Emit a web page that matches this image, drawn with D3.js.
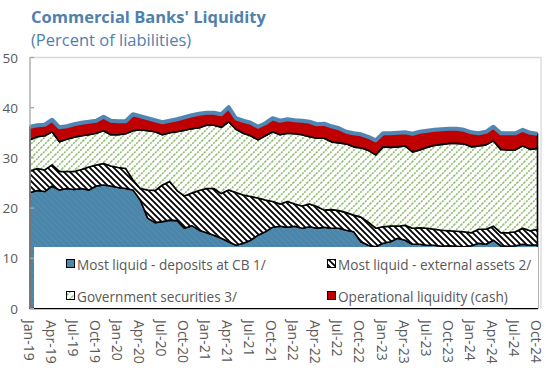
<!DOCTYPE html>
<html>
<head>
<meta charset="utf-8">
<script src="https://cdn.jsdelivr.net/npm/d3@7"></script>
<style>
  body { margin: 0; background: #fff; }
  svg { display: block; }
  text { font-family: "Open Sans", sans-serif; }
</style>
</head>
<body>
<svg id="chart" width="546" height="371"></svg>
<script>
// Monthly observations, Jan-19 .. Oct-24
const months = [
  "Jan-19","Feb-19","Mar-19","Apr-19","May-19","Jun-19","Jul-19","Aug-19","Sep-19","Oct-19","Nov-19","Dec-19",
  "Jan-20","Feb-20","Mar-20","Apr-20","May-20","Jun-20","Jul-20","Aug-20","Sep-20","Oct-20","Nov-20","Dec-20",
  "Jan-21","Feb-21","Mar-21","Apr-21","May-21","Jun-21","Jul-21","Aug-21","Sep-21","Oct-21","Nov-21","Dec-21",
  "Jan-22","Feb-22","Mar-22","Apr-22","May-22","Jun-22","Jul-22","Aug-22","Sep-22","Oct-22","Nov-22","Dec-22",
  "Jan-23","Feb-23","Mar-23","Apr-23","May-23","Jun-23","Jul-23","Aug-23","Sep-23","Oct-23","Nov-23","Dec-23",
  "Jan-24","Feb-24","Mar-24","Apr-24","May-24","Jun-24","Jul-24","Aug-24","Sep-24","Oct-24"
];
const tickLabels = [
  "Jan-19","Apr-19","Jul-19","Oct-19","Jan-20","Apr-20","Jul-20","Oct-20",
  "Jan-21","Apr-21","Jul-21","Oct-21","Jan-22","Apr-22","Jul-22","Oct-22",
  "Jan-23","Apr-23","Jul-23","Oct-23","Jan-24","Apr-24","Jul-24","Oct-24"
];
const yTicks = [0, 10, 20, 30, 40, 50];

// Percent of liabilities
const depositsCB = [
  23.1,23.5,23.3,24.4,23.6,23.9,23.7,23.9,23.6,24.4,24.6,24.4,
  24.1,23.9,23.6,21.6,18.0,17.1,17.3,17.6,17.5,16.0,16.5,15.6,
  15.1,14.6,14.0,13.3,12.6,13.0,13.6,14.6,15.3,16.2,16.4,16.2,
  16.4,16.0,16.3,16.0,16.2,16.0,16.0,15.6,15.3,13.3,12.6,12.3,
  13.0,13.3,14.0,13.6,12.8,12.8,12.6,12.6,12.4,12.5,12.4,12.3,
  12.5,13.0,12.8,13.6,12.5,12.4,12.5,12.8,12.6,12.7
];
const externalAssets = [
  4.3,4.4,4.3,4.2,3.7,3.4,3.6,3.8,4.6,4.2,4.3,4.0,
  4.0,4.0,2.0,2.3,5.6,6.4,7.3,7.7,6.0,6.4,6.5,7.9,
  8.8,9.3,8.9,10.3,10.5,9.6,8.7,7.4,6.3,5.1,4.4,5.1,
  4.4,4.4,4.5,4.3,3.4,3.7,3.5,3.5,3.3,4.9,4.6,3.7,
  3.3,3.1,2.4,3.0,3.2,3.3,3.4,3.2,3.2,3.0,3.0,3.0,
  2.6,2.8,3.0,2.8,2.6,2.7,2.8,3.2,2.9,3.1
];
const govSecurities = [
  6.2,6.3,6.8,6.6,5.9,6.4,6.8,6.7,6.4,6.3,6.5,6.2,
  6.5,6.9,9.8,11.7,11.8,11.7,10.0,9.7,11.7,13.1,12.8,12.5,
  12.6,12.6,13.2,13.6,12.6,12.3,12.1,11.6,12.8,13.9,13.8,13.6,
  14.0,14.2,13.4,13.6,14.3,13.5,13.5,13.7,13.6,13.8,14.3,14.6,
  15.9,15.7,15.8,15.8,15.2,15.5,16.1,16.7,17.1,17.4,17.5,17.5,
  17.1,16.6,16.8,17.0,16.6,16.5,16.3,16.4,16.2,16.1
];
const cash = [
  2.6,2.3,2.2,2.4,2.9,2.6,2.6,2.6,2.6,2.5,2.8,2.8,
  2.7,2.5,3.3,2.7,2.5,2.3,2.5,2.4,2.5,2.6,2.7,2.8,
  2.5,2.5,2.6,2.9,2.2,2.5,2.6,2.6,2.5,2.7,2.8,2.8,
  2.7,2.8,3.0,2.8,2.9,3.1,2.9,2.4,2.7,2.7,2.7,2.9,
  2.7,2.8,2.8,2.7,3.6,3.6,3.3,3.1,3.0,2.9,2.9,2.8,
  2.9,2.5,2.6,2.8,3.2,3.3,3.3,3.2,3.3,2.9
];

const seriesNames = [
  "Most liquid - deposits at CB 1/",
  "Most liquid - external assets 2/",
  "Government securities 3/",
  "Operational liquidity (cash)"
];

const rows = months.map((m, i) => ({
  month: m,
  s0: depositsCB[i], s1: externalAssets[i], s2: govSecurities[i], s3: cash[i]
}));

const svg = d3.select("#chart");
const margin = { left: 30, right: 8, top: 57.5, bottom: 62.5 };
const W = 546, H = 371;
const plotRight = 537.5;

const x = d3.scalePoint().domain(months).range([margin.left, plotRight]);
const y = d3.scaleLinear().domain([0, 50]).range([H - margin.bottom, margin.top]);

// Fill patterns
const defs = svg.append("defs");

const pBlue = defs.append("pattern").attr("id", "pBlue")
  .attr("patternUnits", "userSpaceOnUse").attr("width", 6).attr("height", 6);
pBlue.append("rect").attr("width", 6).attr("height", 6).attr("fill", "#4b86aa");
pBlue.append("path").attr("d", "M-1,-1 L7,7 M-1,5 L1,7 M5,-1 L7,1")
  .attr("stroke", "#5590b3").attr("stroke-width", 1);

const pExt = defs.append("pattern").attr("id", "pExt")
  .attr("patternUnits", "userSpaceOnUse").attr("width", 6).attr("height", 6);
pExt.append("rect").attr("width", 6).attr("height", 6).attr("fill", "#fff");
pExt.append("path").attr("d", "M-1,-1 L7,7 M-1,5 L1,7 M5,-1 L7,1")
  .attr("stroke", "#000").attr("stroke-width", 1.8);

const pGov = defs.append("pattern").attr("id", "pGov")
  .attr("patternUnits", "userSpaceOnUse").attr("width", 7).attr("height", 7);
pGov.append("rect").attr("width", 7).attr("height", 7).attr("fill", "#fff");
pGov.append("path").attr("d", "M-1,8 L8,-1 M-1,1 L1,-1 M6,8 L8,6")
  .attr("stroke", "#8dba6a").attr("stroke-width", 1.5).attr("stroke-dasharray", "2,1");

const fills = ["url(#pBlue)", "url(#pExt)", "url(#pGov)", "#c00000"];

// Plot frame (light grey top and right)
svg.append("path")
  .attr("d", `M${margin.left},${margin.top} H541 V${y(0)}`)
  .attr("fill", "none").attr("stroke", "#d9d9d9").attr("stroke-width", 1.3);

// Stacked areas
const stack = d3.stack().keys(["s0", "s1", "s2", "s3"]);
const layers = stack(rows);

const area = d3.area()
  .x(d => x(d.data.month))
  .y0(d => y(d[0]))
  .y1(d => y(d[1]));

svg.append("g").selectAll("path").data(layers).join("path")
  .attr("d", area)
  .attr("fill", (d, i) => fills[i])
  .attr("stroke", "#000").attr("stroke-width", 1.6)
  .attr("stroke-linejoin", "round");

// Total outline
const topLine = d3.line()
  .x(d => x(d.data.month))
  .y(d => y(d[1]));
svg.append("path").datum(layers[3])
  .attr("d", topLine)
  .attr("fill", "none").attr("stroke", "#4f86b4").attr("stroke-width", 4)
  .attr("stroke-linejoin", "round");

// Y axis
svg.append("line")
  .attr("x1", margin.left).attr("x2", margin.left)
  .attr("y1", margin.top).attr("y2", y(0))
  .attr("stroke", "#a6a6a6").attr("stroke-width", 1.3);

const yAxis = svg.append("g");
yAxis.selectAll("line").data(yTicks).join("line")
  .attr("x1", margin.left).attr("x2", margin.left + 4)
  .attr("y1", d => y(d)).attr("y2", d => y(d))
  .attr("stroke", "#a6a6a6").attr("stroke-width", 1.3);
yAxis.selectAll("text").data(yTicks).join("text")
  .attr("x", 18).attr("y", d => y(d))
  .attr("text-anchor", "end").attr("dominant-baseline", "central")
  .attr("fill", "#595959").attr("font-size", 13.5)
  .text(d => d);

// Legend
const lg = svg.append("g");
lg.append("rect").attr("x", 34).attr("y", 247).attr("width", 504).attr("height", 61)
  .attr("fill", "#fff");
const legendPos = [[66, 264], [327, 264], [66, 296], [327, 296]];
const entries = lg.selectAll("g").data(seriesNames).join("g")
  .attr("transform", (d, i) => `translate(${legendPos[i][0]},${legendPos[i][1]})`);
entries.append("rect")
  .attr("x", 0.5).attr("y", -4.5).attr("width", 8).attr("height", 8)
  .attr("fill", (d, i) => fills[i]).attr("stroke", "#000").attr("stroke-width", 1);
entries.append("text")
  .attr("x", 11).attr("y", 0).attr("dominant-baseline", "central")
  .attr("fill", "#595959").attr("font-size", 13.6)
  .text(d => d);

// X axis labels (rotated)
svg.append("g").selectAll("text").data(tickLabels).join("text")
  .attr("transform", d => `translate(${x(d) - 1},320) rotate(90)`)
  .attr("dominant-baseline", "central")
  .attr("fill", "#595959").attr("font-size", 14)
  .text(d => d);

// Titles
svg.append("text").attr("x", 31).attr("y", 23)
  .attr("fill", "#4f81ad").attr("font-size", 16.5).attr("font-weight", 700)
  .text("Commercial Banks' Liquidity");
svg.append("text").attr("x", 31).attr("y", 46)
  .attr("fill", "#4f81ad").attr("font-size", 16.5)
  .text("(Percent of liabilities)");
</script>
</body>
</html>
